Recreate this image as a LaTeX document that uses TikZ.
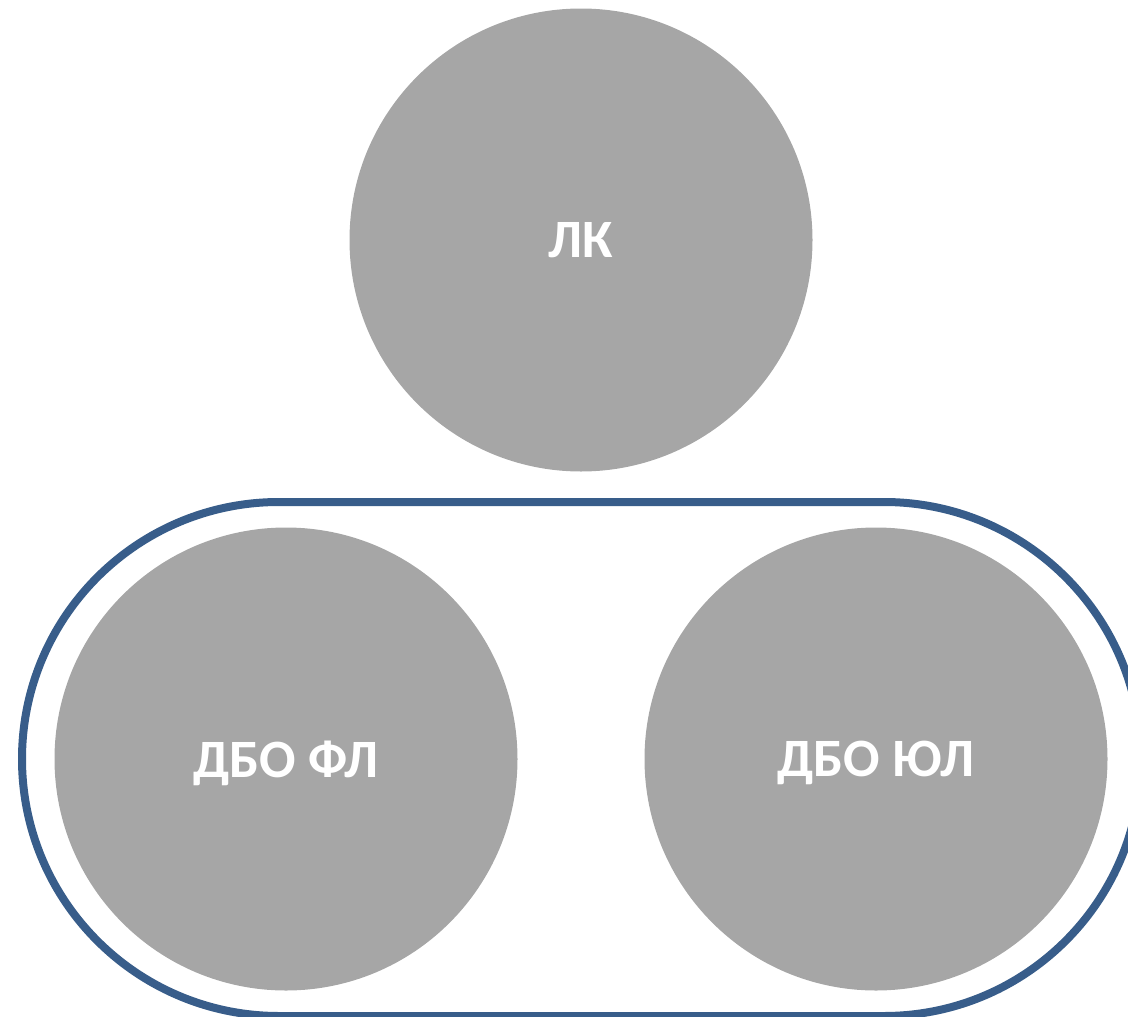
\documentclass[tikz,border=0pt]{standalone}
\usepackage{fontspec}
\setmainfont{Carlito}
\usepackage{xcolor}
\definecolor{circgray}{HTML}{A6A6A6}
\definecolor{ringblue}{HTML}{385D8A}

\begin{document}
\begin{tikzpicture}[x=1pt, y=-1pt,
    part/.style={circle, fill=circgray, minimum size=463pt, inner sep=0pt,
                 text depth=0pt, text=white,
                 font=\fontsize{54}{60}\selectfont\bfseries}]
        % Frame of the picture
        \useasboundingbox (0,0) rectangle (1128,1017);
        \clip (0,0) rectangle (1128,1017);

        % Group outline
        \draw[ringblue, line width=8pt, rounded corners=257pt] (22,502) rectangle (1141,1016);

        % Circles
        \node[part] (lk) at (581,240) {ЛК};
        \node[part] (dbofl) at (286,759) {ДБО ФЛ};
        \node[part] (dboul) at (876,759) {ДБО ЮЛ};
    \end{tikzpicture}
\end{document}
